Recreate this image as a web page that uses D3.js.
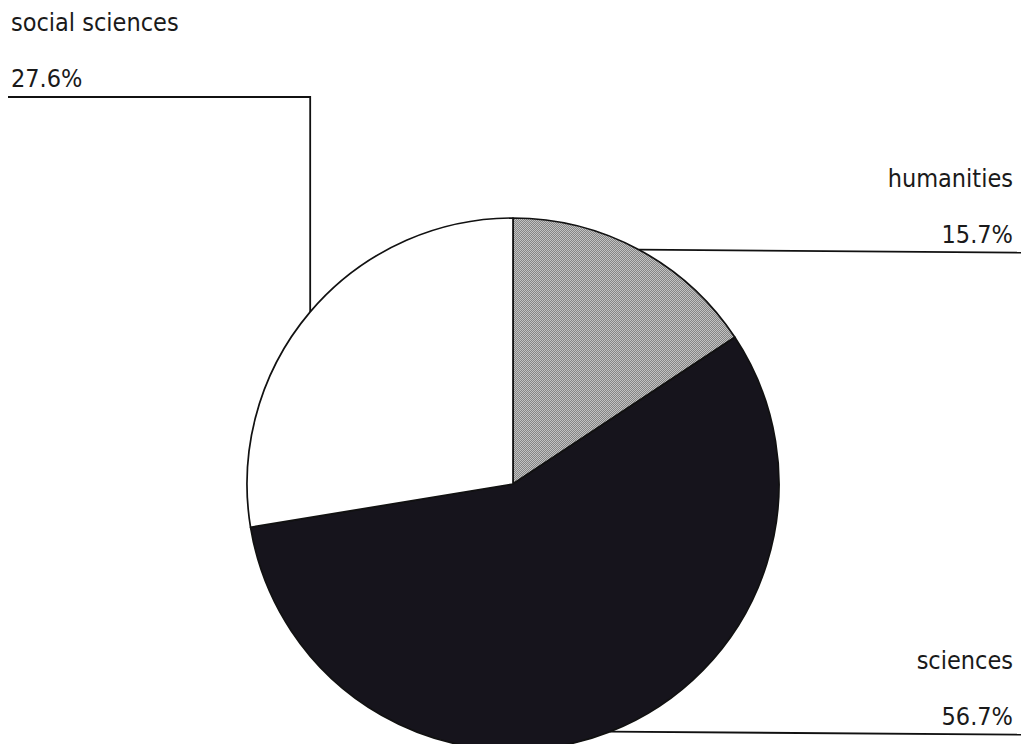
<!DOCTYPE html>
<html>
<head>
<meta charset="utf-8">
<script src="https://cdn.jsdelivr.net/npm/d3@7"></script>
<style>
  html, body { margin: 0; padding: 0; background: #ffffff; }
  svg { display: block; }
  text { font-family: "DejaVu Sans Condensed", "DejaVu Sans", sans-serif; font-stretch: condensed; font-size: 25px; fill: #1a1a1a; }
</style>
</head>
<body>
<svg id="chart" width="1026" height="744"></svg>
<script>
// Share of students by field
const categories = ["humanities", "sciences", "social sciences"];
const shares = [15.7, 56.7, 27.6];
const shareLabels = ["15.7%", "56.7%", "27.6%"];

const width = 1026, height = 744;
const cx = 513, cy = 484, radius = 266;

const svg = d3.select("#chart");

// Dithered grey fill for the humanities slice
const defs = svg.append("defs");
const pat = defs.append("pattern")
  .attr("id", "dither")
  .attr("patternUnits", "userSpaceOnUse")
  .attr("width", 2).attr("height", 2);
pat.append("rect").attr("width", 2).attr("height", 2).attr("fill", "#c2c2c2");
pat.append("rect").attr("x", 0).attr("y", 0).attr("width", 1).attr("height", 1).attr("fill", "#858585");
pat.append("rect").attr("x", 1).attr("y", 1).attr("width", 1).attr("height", 1).attr("fill", "#858585");

const fills = d3.scaleOrdinal()
  .domain(categories)
  .range(["url(#dither)", "#16141c", "#ffffff"]);

const data = categories.map((c, i) => ({ name: c, value: shares[i], label: shareLabels[i] }));

const pie = d3.pie().sort(null).value(d => d.value);
const arcs = pie(data);
const arc = d3.arc().innerRadius(0).outerRadius(radius);

const g = svg.append("g").attr("transform", `translate(${cx},${cy})`);

g.selectAll("path.slice")
  .data(arcs)
  .join("path")
  .attr("class", "slice")
  .attr("d", arc)
  .attr("fill", d => fills(d.data.name))
  .attr("stroke", "#111")
  .attr("stroke-width", 1.7)
  .attr("stroke-linejoin", "round");

// Point on the rim at the middle of a slice, in page coordinates
function rimPoint(d) {
  const a = (d.startAngle + d.endAngle) / 2;
  return [cx + radius * Math.sin(a), cy - radius * Math.cos(a)];
}

const lines = svg.append("g")
  .attr("fill", "none")
  .attr("stroke", "#111")
  .attr("stroke-width", 1.8);

const labels = svg.append("g");
const rightEdge = 1021, leftEdge = 8, textRight = 1013, textLeft = 11;

arcs.forEach(d => {
  const [px, py] = rimPoint(d);
  if (d.data.name === "social sciences") {
    // up from the rim, then out to the left margin
    const topY = 97;
    lines.append("path").attr("d", d3.line()([[px, py], [px, topY], [leftEdge, topY]]));
    labels.append("text").attr("x", textLeft).attr("y", topY - 66).text(d.data.name);
    labels.append("text").attr("x", textLeft).attr("y", topY - 10).text(d.data.label);
  } else {
    lines.append("path").attr("d", d3.line()([[px, py], [rightEdge, py + 3]]));
    labels.append("text").attr("x", textRight).attr("y", py - 63)
      .attr("text-anchor", "end").text(d.data.name);
    labels.append("text").attr("x", textRight).attr("y", py - 7)
      .attr("text-anchor", "end").text(d.data.label);
  }
});
</script>
</body>
</html>
